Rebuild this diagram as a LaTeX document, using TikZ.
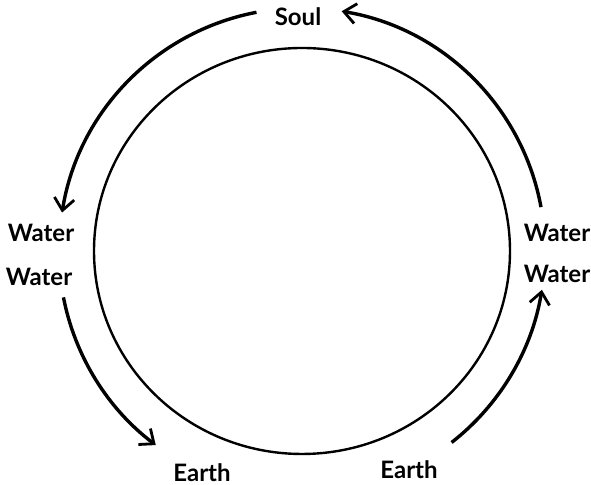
\documentclass[tikz,border=0pt]{standalone}
\usepackage{fontspec}
\setmainfont{Lato}
\usetikzlibrary{arrows.meta}

\begin{document}
\begin{tikzpicture}[
    x=0.5pt, y=0.5pt,
    lbl/.style={font=\fontsize{12}{14}\selectfont\bfseries, inner sep=0pt},
    arr/.style={-{Straight Barb[length=6pt, width=10pt, line width=1.4pt]}, line width=1.7pt},
    ring/.style={line width=1.2pt}
]
    \useasboundingbox (0,0) rectangle (591,485);
    \coordinate (ctr) at (302,234);
    \draw[ring] (ctr) ellipse [x radius=208, y radius=203];

    \node[lbl] (soul) at (298,468) {Soul};
    \node[lbl] (wl1) at (41,252) {Water};
    \node[lbl] (wl2) at (39,208) {Water};
    \node[lbl] (wr1) at (557,252) {Water};
    \node[lbl] (wr2) at (557,211) {Water};
    \node[lbl] (el) at (202,12) {Earth};
    \node[lbl] (er) at (409,15) {Earth};

    % start points of the outer arcs
    \coordinate (s1) at ([shift={(100.8:243)}]ctr);
    \coordinate (s2) at ([shift={(10.4:243)}]ctr);
    \coordinate (s3) at ([shift={(191:243)}]ctr);
    \coordinate (s4) at ([shift={(308:243)}]ctr);

    \draw[arr] (s1) arc[start angle=100.8, end angle=170.9, radius=243];
    \draw[arr] (s2) arc[start angle=10.4, end angle=80.6, radius=243];
    \draw[arr] (s3) arc[start angle=191, end angle=233, radius=243];
    \draw[arr] (s4) arc[start angle=308, end angle=350.8, radius=243];
\end{tikzpicture}
\end{document}
